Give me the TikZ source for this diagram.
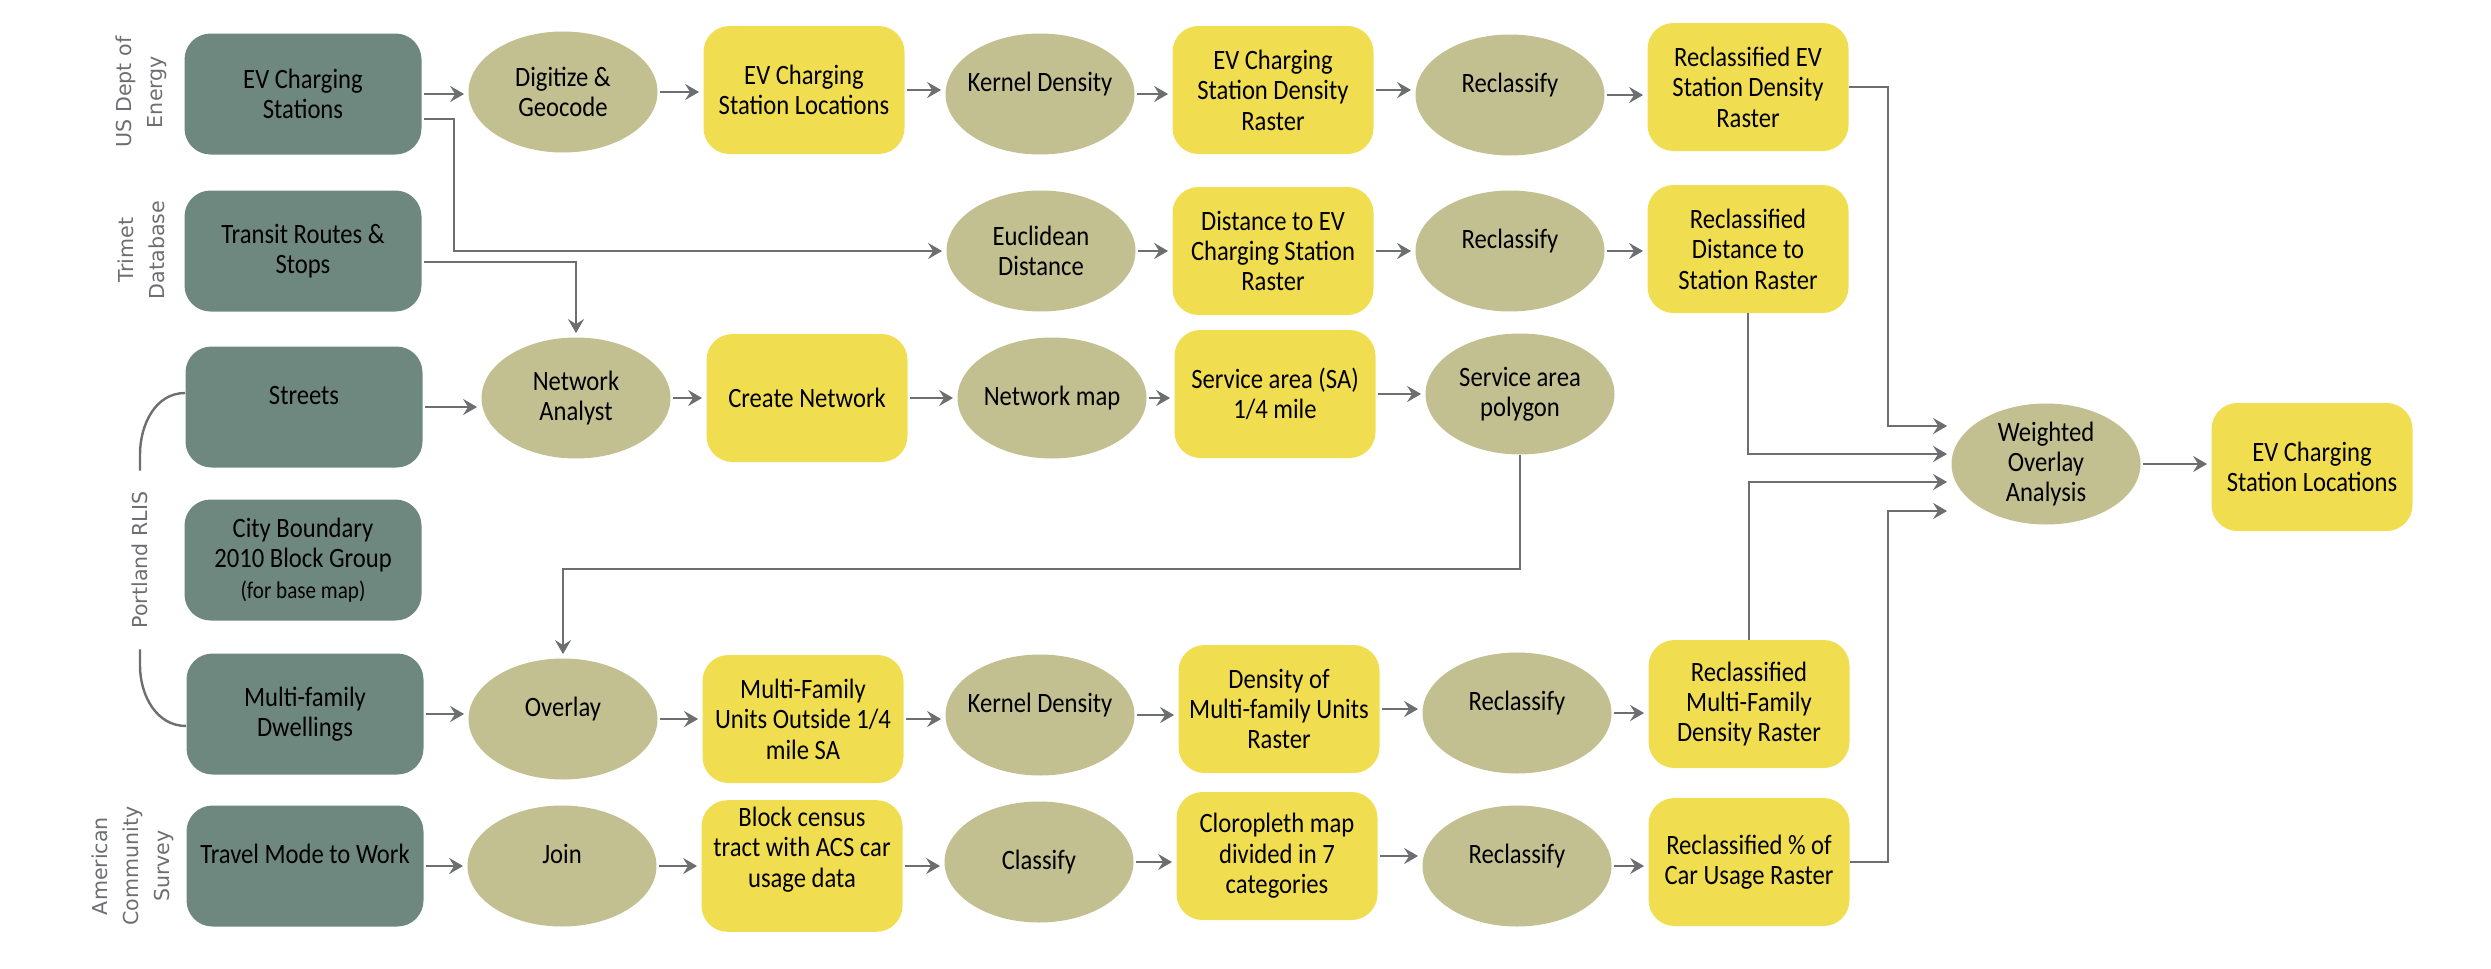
\documentclass[tikz,border=0pt]{standalone}
\usepackage{fontspec}
\setmainfont{Carlito}[FakeStretch=0.88]
\newfontfamily\sidefont{DejaVu Sans}
\usetikzlibrary{shapes.geometric,arrows.meta}
\definecolor{srcteal}{HTML}{6E8880}
\definecolor{procolive}{HTML}{C2BF90}
\definecolor{dataylw}{HTML}{F0DE50}
\definecolor{flowgray}{HTML}{6D6E71}
\tikzset{
  boxfont/.style={font=\fontsize{14}{15.2}\selectfont},
  src/.style={rectangle, rounded corners=13pt, fill=srcteal, minimum width=118.5pt, minimum height=60.5pt, inner xsep=2pt, align=center, boxfont},
  data/.style={rectangle, rounded corners=13pt, fill=dataylw, minimum width=100.5pt, minimum height=64pt, inner xsep=1.5pt, align=center, boxfont},
  proc/.style={ellipse, fill=procolive, minimum width=94.5pt, minimum height=60.5pt, inner xsep=-8pt, inner ysep=-4pt, align=center, boxfont},
  lifted/.style={text depth=12pt},
  side/.style={rotate=90, align=center, text=flowgray, font=\sidefont\fontsize{10.3}{15.5}\selectfont},
  flow/.style={draw=flowgray, line width=1.3pt, -{Stealth[length=7pt,width=8pt,inset=2.5pt]}, shorten <=1pt, shorten >=2pt},
  bracket/.style={draw=flowgray, line width=1.2pt}
}
\begin{document}
\begin{tikzpicture}[x=0.5pt,y=-0.5pt]
\useasboundingbox (0,0) rectangle (2491,969);
\node[side] (doe) at (141,92) {US Dept of\\Energy};
\node[side] (trimet) at (141,250) {Trimet\\Database};
\node[side] (rlis) at (140,560) {Portland RLIS};
\node[side] (acs) at (133,866) {American\\Community\\Survey};
\node[src] (evsrc) at (303,94) {EV Charging\\Stations};
\node[src] (transit) at (303,251) {Transit Routes \&\\Stops};
\node[src, lifted] (streets) at (304,407) {Streets};
\node[src] (city) at (303,560) {City Boundary\\2010 Block Group\\{\fontsize{12}{13}\selectfont (for base map)}};
\node[src] (mfd) at (305,714) {Multi-family\\Dwellings};
\node[src, lifted] (travel) at (305,866) {Travel Mode to Work};
\node[proc] (digit) at (563,92) {Digitize \&\\Geocode};
\node[data] (evloc) at (804,90) {EV Charging\\Station Locations};
\node[proc, lifted] (kd1) at (1040,94) {Kernel Density};
\node[data] (evden) at (1273,90) {EV Charging\\Station Density\\Raster};
\node[proc, lifted] (rc1) at (1510,95) {Reclassify};
\node[data] (rev) at (1748,87) {Reclassified EV\\Station Density\\Raster};
\node[proc] (euclid) at (1041,251) {Euclidean\\Distance};
\node[data] (dist) at (1273,251) {Distance to EV\\Charging Station\\Raster};
\node[proc, lifted] (rc2) at (1510,251) {Reclassify};
\node[data] (rdist) at (1748,249) {Reclassified\\Distance to\\Station Raster};
\node[proc] (netan) at (576,398) {Network\\Analyst};
\node[data] (cnet) at (807,398) {Create Network};
\node[proc] (nmap) at (1052,398) {Network map};
\node[data] (sa) at (1275,394) {Service area (SA)\\1/4 mile};
\node[proc] (spoly) at (1520,394) {Service area\\polygon};
\node[proc] (wo) at (2046,464) {Weighted\\Overlay\\Analysis};
\node[data] (final) at (2312,467) {EV Charging\\Station Locations};
\node[proc, lifted] (overlay) at (563,719) {Overlay};
\node[data] (mfu) at (803,719) {Multi-Family\\Units Outside 1/4\\mile SA};
\node[proc, lifted] (kd2) at (1040,715) {Kernel Density};
\node[data] (dmf) at (1279,709) {Density of\\Multi-family Units\\Raster};
\node[proc, lifted] (rc3) at (1517,713) {Reclassify};
\node[data] (rmf) at (1749,704) {Reclassified\\Multi-Family\\Density Raster};
\node[proc, lifted] (join) at (562,866) {Join};
\node[data, text depth=19pt] (block) at (802,866) {Block census\\tract with ACS car\\usage data};
\node[proc] (classify) at (1039,862) {Classify};
\node[data] (clor) at (1277,856) {Cloropleth map\\divided in 7\\categories};
\node[proc, lifted] (rc4) at (1517,866) {Reclassify};
\node[data] (rcar) at (1749,862) {Reclassified \% of\\Car Usage Raster};
\draw[bracket] ([yshift=7pt]rlis.east) -- ++(0,8pt) to[out=90,in=180] ([yshift=7pt]streets.west);
\draw[bracket] ([yshift=-7pt]rlis.west) -- ++(0,-8pt) to[out=-90,in=180] ([yshift=-6pt]mfd.west);
\draw[flow] (evsrc.east) -- (evsrc.east -| digit.west);
\draw[flow] (digit.east) -- (digit.east -| evloc.west);
\draw[flow] (evloc.east) -- (evloc.east -| kd1.west);
\draw[flow] (kd1.east) -- (kd1.east -| evden.west);
\draw[flow] (evden.east) -- (evden.east -| rc1.west);
\draw[flow] (rc1.east) -- (rc1.east -| rev.west);
\draw[flow] ([yshift=-12.5pt]evsrc.east) -- ++(16pt,0) |- (euclid.west);
\draw[flow] (euclid.east) -- (euclid.east -| dist.west);
\draw[flow] (dist.east) -- (dist.east -| rc2.west);
\draw[flow] (rc2.east) -- (rc2.east -| rdist.west);
\draw[flow] ([yshift=-5.5pt]transit.east) -| (netan.north);
\draw[flow] (streets.east) -- (streets.east -| netan.west);
\draw[flow] (netan.east) -- (netan.east -| cnet.west);
\draw[flow] (cnet.east) -- (cnet.east -| nmap.west);
\draw[flow] (nmap.east) -- (nmap.east -| sa.west);
\draw[flow] (sa.east) -- (sa.east -| spoly.west);
\draw[flow, shorten <=0pt] (spoly.south) -- ++(0,-57pt) -| (overlay.north);
\draw[flow] (mfd.east) -- (mfd.east -| overlay.west);
\draw[flow] (overlay.east) -- (overlay.east -| mfu.west);
\draw[flow] (mfu.east) -- (mfu.east -| kd2.west);
\draw[flow] (kd2.east) -- (kd2.east -| dmf.west);
\draw[flow] (dmf.east) -- (dmf.east -| rc3.west);
\draw[flow] (rc3.east) -- (rc3.east -| rmf.west);
\draw[flow] (travel.east) -- (travel.east -| join.west);
\draw[flow] (join.east) -- (join.east -| block.west);
\draw[flow] (block.east) -- (block.east -| classify.west);
\draw[flow] (classify.east) -- (classify.east -| clor.west);
\draw[flow] (clor.east) -- (clor.east -| rc4.west);
\draw[flow] (rc4.east) -- (rc4.east -| rcar.west);
\draw[flow, shorten <=0pt] (rev.east) -- ++(19.5pt,0) |- ([yshift=19pt]wo.west);
\draw[flow, shorten <=0pt] (rdist.south) |- ([yshift=5pt]wo.west);
\draw[flow, shorten <=0pt] (rmf.north) |- ([yshift=-9pt]wo.west);
\draw[flow, shorten <=0pt] (rcar.east) -- ++(19pt,0) |- ([yshift=-23.5pt]wo.west);
\draw[flow] (wo.east) -- (wo.east -| final.west);
\end{tikzpicture}
\end{document}
